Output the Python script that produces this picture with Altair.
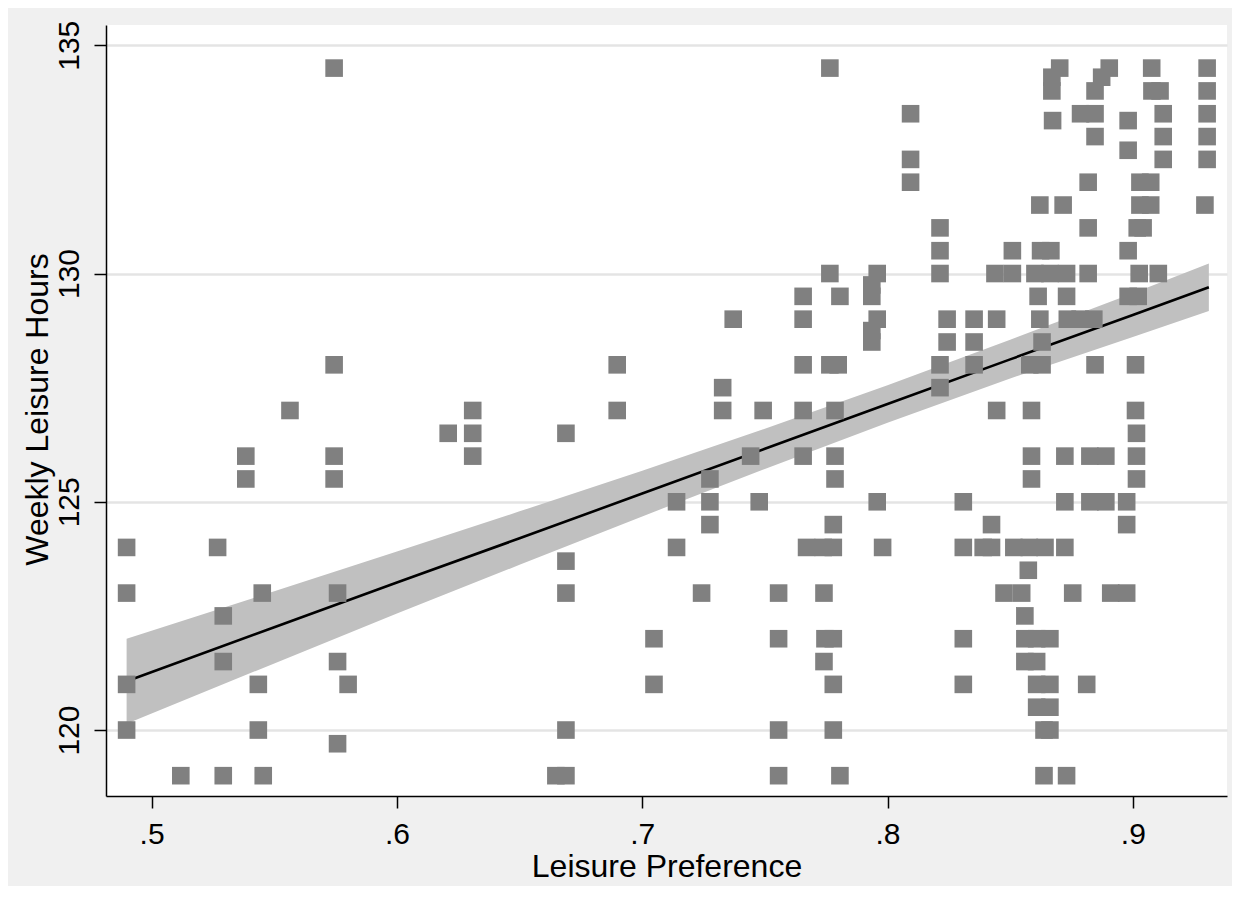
import altair as alt
import pandas as pd

# Leisure preference (x) and weekly leisure hours (y)
pref = [
    0.4898, 0.4898, 0.4898, 0.4898, 0.5119, 0.5269, 0.5292, 0.5292, 0.5292, 0.5384,
    0.5384, 0.5451, 0.5435, 0.5435, 0.5455, 0.5564, 0.5744, 0.5744, 0.5744, 0.5744,
    0.5758, 0.5758, 0.5801, 0.5758, 0.6209, 0.6309, 0.6309, 0.6309, 0.6648, 0.6689,
    0.6689, 0.6689, 0.6689, 0.6689, 0.6898, 0.6898, 0.7048, 0.7048, 0.7140, 0.7140,
    0.7242, 0.7276, 0.7276, 0.7276, 0.7328, 0.7328, 0.7371, 0.7442, 0.7477, 0.7493,
    0.7556, 0.7556, 0.7556, 0.7556, 0.7656, 0.7656, 0.7656, 0.7656, 0.7656, 0.7670,
    0.7738, 0.7779, 0.7741, 0.7745, 0.7779, 0.7741, 0.7779, 0.7779, 0.7806, 0.7765,
    0.7765, 0.7806, 0.7765, 0.7799, 0.7786, 0.7786, 0.7786, 0.7779, 0.7958, 0.7936,
    0.7936, 0.7958, 0.7936, 0.7936, 0.7958, 0.7980, 0.8094, 0.8094, 0.8094, 0.8214,
    0.8214, 0.8214, 0.8214, 0.8214, 0.8243, 0.8243, 0.8309, 0.8309, 0.8309, 0.8309,
    0.8353, 0.8353, 0.8353, 0.8424, 0.8390, 0.8424, 0.8445, 0.8438, 0.8445, 0.8509,
    0.8509, 0.8475, 0.8547, 0.8515, 0.8578, 0.8642, 0.8574, 0.8560, 0.8560, 0.8608,
    0.8662, 0.8560, 0.8608, 0.8608, 0.8662, 0.8608, 0.8662, 0.8638, 0.8662, 0.8638,
    0.8587, 0.8587, 0.8587, 0.8621, 0.8624, 0.8666, 0.8601, 0.8662, 0.8730, 0.8614,
    0.8621, 0.8630, 0.8580, 0.8630, 0.8730, 0.8723, 0.8755, 0.8910, 0.8975, 0.8812,
    0.8723, 0.8825, 0.8890, 0.9015, 0.8723, 0.8825, 0.8890, 0.8975, 0.8975, 0.9011,
    0.9015, 0.9015, 0.8846, 0.9011, 0.8733, 0.8785, 0.8841, 0.8730, 0.8981, 0.9022,
    0.8818, 0.9026, 0.9104, 0.8981, 0.8818, 0.9018, 0.9042, 0.8716, 0.9029, 0.9073,
    0.9294, 0.8818, 0.9029, 0.9073, 0.8981, 0.9124, 0.9303, 0.8846, 0.9124, 0.9303,
    0.8673, 0.8981, 0.8787, 0.8846, 0.9124, 0.9303, 0.8670, 0.8846, 0.9078, 0.9111,
    0.9303, 0.8670, 0.8873, 0.8702, 0.8904, 0.9077, 0.9303,
]
hours = [
    124, 123, 121, 120, 119, 124, 122.5, 121.5, 119, 126,
    125.5, 123, 121, 120, 119, 127, 134.5, 128, 126, 125.5,
    123, 121.5, 121, 119.7, 126.5, 127, 126.5, 126, 119, 119,
    126.5, 123.7, 123, 120, 128, 127, 122, 121, 125, 124,
    123, 125.5, 125, 124.5, 127.5, 127, 129, 126, 125, 127,
    123, 122, 120, 119, 129.5, 129, 128, 127, 126, 124,
    124, 124, 123, 122, 122, 121.5, 121, 120, 119, 134.5,
    130, 129.5, 128, 128, 127, 126, 125.5, 124.5, 130, 129.75,
    129.5, 129, 128.75, 128.5, 125, 124, 133.5, 132.5, 132, 131,
    130.5, 130, 128, 127.5, 129, 128.5, 125, 124, 122, 121,
    129, 128.5, 128, 124.5, 124, 124, 129, 130, 127, 130.5,
    130, 123, 123, 124, 124, 124, 123.5, 122.5, 122, 122,
    122, 121.5, 121.5, 121, 121, 120.5, 120.5, 120, 120, 119,
    127, 126, 125.5, 131.5, 130.5, 130.5, 130, 130, 130, 129.5,
    129, 128.5, 128, 128, 119, 124, 123, 123, 123, 121,
    126, 126, 126, 126, 125, 125, 125, 125, 124.5, 127,
    126.5, 125.5, 128, 128, 129, 129, 129, 129.5, 129.5, 129.5,
    130, 130, 130, 130.5, 131, 131, 131, 131.5, 131.5, 131.5,
    131.5, 132, 132, 132, 132.7, 132.5, 132.5, 133, 133, 133,
    133.35, 133.35, 133.5, 133.5, 133.5, 133.5, 134, 134, 134, 134,
    134, 134.3, 134.3, 134.5, 134.5, 134.5, 134.5,
]

# Fitted line and its confidence band
fit_x = [0.4898, 0.55, 0.60, 0.65, 0.70, 0.75, 0.80, 0.85, 0.90, 0.931]
fit_y = [121.07, 122.25, 123.23, 124.20, 125.18, 126.16, 127.14, 128.12, 129.09, 129.70]
ci_lo = [120.14, 121.46, 122.55, 123.62, 124.68, 125.72, 126.73, 127.70, 128.61, 129.18]
ci_hi = [122.00, 123.04, 123.91, 124.79, 125.68, 126.60, 127.55, 128.55, 129.57, 130.22]

x_ticks = [0.5, 0.6, 0.7, 0.8, 0.9]
y_ticks = [120, 125, 130, 135]

pts = pd.DataFrame({"pref": pref, "hours": hours})
fit = pd.DataFrame({"pref": fit_x, "hours": fit_y, "lo": ci_lo, "hi": ci_hi})

FONT = "Liberation Sans"

xscale = alt.Scale(domain=[0.4814, 0.9384], nice=False, zero=False)
yscale = alt.Scale(domain=[118.555, 135.444], nice=False, zero=False)

xaxis = alt.Axis(
    values=x_ticks, labelExpr="substring(format(datum.value, '.1f'), 1)",
    grid=False, tickSize=12, labelPadding=11, labelFlush=False, labelOverlap=False,
    labelBaseline="top", titleBaseline="alphabetic", titleY=80, titleAlign="center",
)
yaxis = alt.Axis(
    values=y_ticks, format="d", grid=True, gridColor="#e4e4e4", gridWidth=2.5,
    tickSize=12, labelAngle=270, labelAlign="center", labelBaseline="alphabetic",
    labelPadding=16, labelFlush=False, labelOverlap=False,
    titleAngle=270, titleAlign="center", titleBaseline="alphabetic",
    titleX=-59, titleY=384,
)

X = alt.X("pref:Q", scale=xscale, axis=xaxis, title="Leisure Preference")
Y = alt.Y("hours:Q", scale=yscale, axis=yaxis, title="Weekly Leisure Hours")

band = alt.Chart(fit).mark_area(color="#c0c0c0", opacity=1).encode(
    x=X,
    y=alt.Y("lo:Q", scale=yscale, axis=yaxis, title="Weekly Leisure Hours"),
    y2="hi:Q",
)
line = alt.Chart(fit).mark_line(color="black", strokeWidth=2.6).encode(x=X, y=Y)
points = alt.Chart(pts).mark_square(size=310, color="#808080", opacity=1).encode(x=X, y=Y)

chart = (
    alt.layer(band, line, points)
    .properties(
        width=1121, height=771,
        autosize=alt.AutoSizeParams(type="none"),
        padding={"left": 98, "top": 17, "right": 5, "bottom": 90},
        background="#f0f0f0",
    )
    .configure_view(fill="white", strokeWidth=0)
    .configure_axis(
        labelFont=FONT, titleFont=FONT, labelFontSize=30, titleFontSize=32,
        titleFontWeight="normal", labelColor="black", titleColor="black",
        domainColor="black", tickColor="black", domainWidth=1.5, tickWidth=1.5,
        titlePadding=0,
    )
)

chart.save("out.html", embed_options={"renderer": "svg", "actions": False})
